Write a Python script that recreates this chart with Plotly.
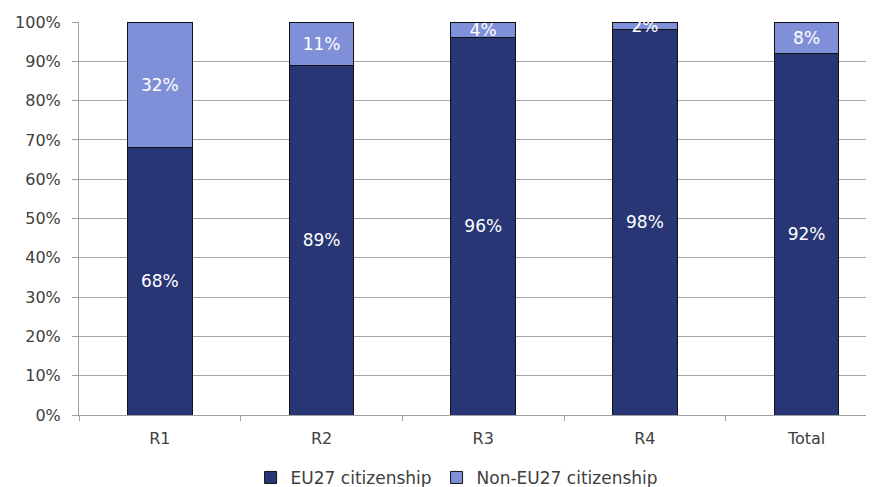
import plotly.graph_objects as go

categories = ["R1", "R2", "R3", "R4", "Total"]
eu27 = [68, 89, 96, 98, 92]
non_eu27 = [32, 11, 4, 2, 8]
y_ticks = [0, 10, 20, 30, 40, 50, 60, 70, 80, 90, 100]
y_tick_labels = [f"{v}%" for v in y_ticks]

FONT = "DejaVu Sans, Verdana, sans-serif"

fig = go.Figure()
fig.add_trace(go.Bar(
    x=categories, y=eu27, name="EU27 citizenship",
    marker=dict(color="#283675", line=dict(color="#111111", width=1)),
    text=[f"{v}%" for v in eu27], textposition="inside",
    insidetextanchor="middle", textangle=0, constraintext="none",
    textfont=dict(color="white", size=17, family=FONT),
    width=0.4,
))
fig.add_trace(go.Bar(
    x=categories, y=non_eu27, name="Non-EU27 citizenship",
    marker=dict(color="#8090d8", line=dict(color="#111111", width=1)),
    text=[f"{v}%" for v in non_eu27], textposition="inside",
    insidetextanchor="middle", textangle=0, constraintext="none",
    textfont=dict(color="white", size=17, family=FONT),
    width=0.4,
))

fig.update_layout(
    barmode="stack",
    width=866, height=479,
    margin=dict(l=71, r=0, t=14, b=72, autoexpand=False),
    plot_bgcolor="white", paper_bgcolor="white",
    font=dict(family=FONT, size=16, color="#404040"),
    showlegend=True,
    legend=dict(orientation="h", xref="container", yref="container",
                x=0.518, xanchor="center", y=0.019, yanchor="middle",
                font=dict(size=17, color="#404040"), traceorder="normal",
                itemwidth=30),
)
fig.update_xaxes(
    range=[-0.5, 4.417], showline=True, linecolor="#a0a0a0", linewidth=1,
    ticks="outside", tickson="boundaries", ticklen=5, tickcolor="#a0a0a0",
    ticklabelstandoff=9,
    showgrid=False, fixedrange=True,
)
fig.update_yaxes(
    range=[0, 100], tickvals=y_ticks, ticktext=y_tick_labels,
    showline=True, linecolor="#a0a0a0", linewidth=1,
    ticks="outside", ticklen=6, tickcolor="#a0a0a0",
    ticklabelstandoff=8,
    showgrid=True, gridcolor="#a6a6a6", gridwidth=1, zeroline=False,
)

fig.write_html("out.html")
